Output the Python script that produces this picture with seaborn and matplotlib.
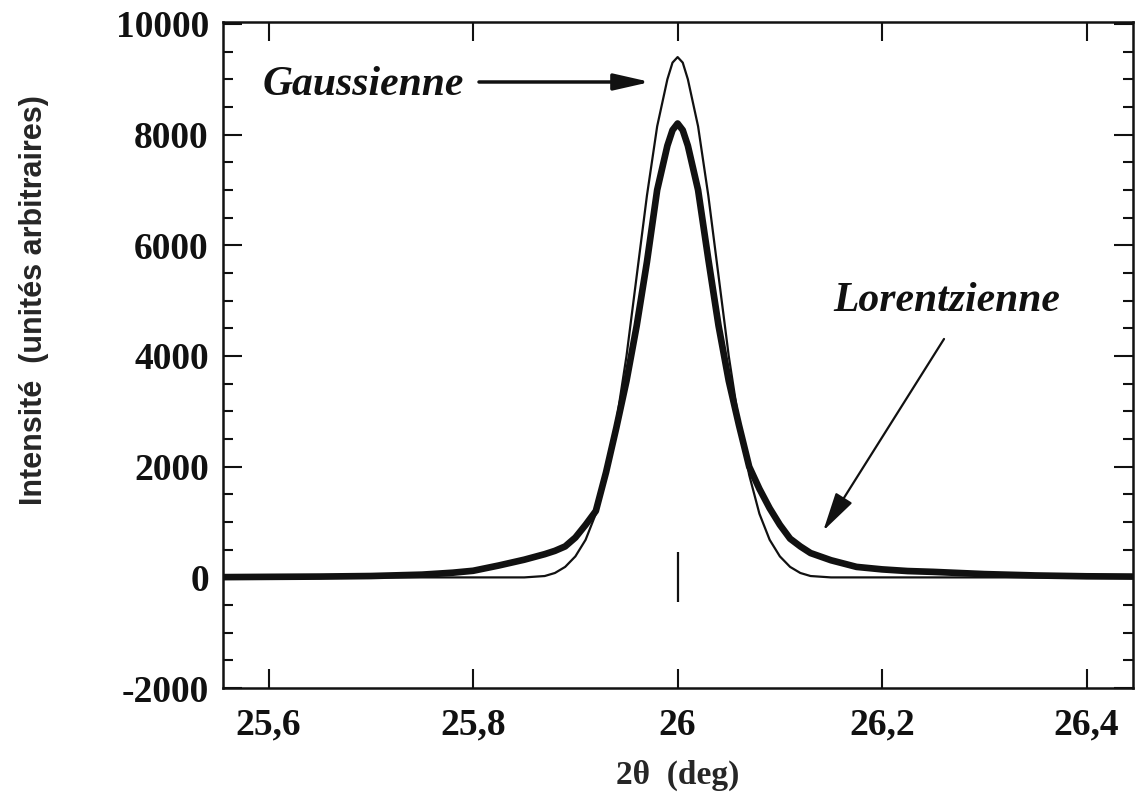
import matplotlib
matplotlib.use("Agg")
import matplotlib.pyplot as plt
import seaborn as sns
import pandas as pd
from matplotlib.ticker import MultipleLocator

# positions 2theta (deg)
two_theta = [25.555, 25.60, 25.65, 25.70, 25.75, 25.78, 25.80, 25.825, 25.85, 25.87,
             25.88, 25.89, 25.90, 25.91, 25.92, 25.93, 25.94, 25.95, 25.96, 25.97,
             25.98, 25.99, 25.995, 26.00, 26.005, 26.01, 26.02, 26.03, 26.04, 26.05,
             26.06, 26.07, 26.08, 26.09, 26.10, 26.11, 26.12, 26.13, 26.15, 26.175,
             26.20, 26.225, 26.25, 26.30, 26.35, 26.40, 26.445]

# profil gaussien (trait fin)
gauss = [0, 0, 0, 0, 0, 0, 0, 0, 0, 25,
         80, 190, 380, 680, 1150, 1850, 2800, 4000, 5450, 6900,
         8150, 9000, 9300, 9400, 9300, 9000, 8150, 6900, 5450, 4000,
         2800, 1850, 1150, 680, 380, 190, 80, 25, 0, 0,
         0, 0, 0, 0, 0, 0, 0]

# profil lorentzien (trait epais)
lorentz = [5, 10, 15, 25, 50, 85, 120, 215, 320, 420,
           480, 560, 720, 950, 1200, 1900, 2700, 3550, 4550, 5700,
           7000, 7800, 8080, 8200, 8080, 7800, 7000, 5750, 4550, 3550,
           2750, 2000, 1600, 1250, 950, 700, 560, 440, 310, 190,
           145, 115, 100, 60, 35, 20, 15]

# repere vertical a 26 deg
mark_x = 26.0
mark_y = [-450, 450]

df = pd.DataFrame({"2theta": two_theta, "Gaussienne": gauss, "Lorentzienne": lorentz})

sns.set_style("ticks")
plt.rcParams['font.family'] = ['Liberation Serif', 'DejaVu Serif']

fig = plt.figure(figsize=(11.36, 8.02), dpi=100)
ax = fig.add_axes([0.196, 0.142, 0.801, 0.831])

sns.lineplot(data=df, x="2theta", y="Gaussienne", ax=ax, color="#111111", lw=1.6)
sns.lineplot(data=df, x="2theta", y="Lorentzienne", ax=ax, color="#111111", lw=4.8)
ax.vlines(mark_x, mark_y[0], mark_y[1], color="#111111", lw=1.6)

ax.set_xlim(25.555, 26.445)
ax.set_ylim(-2000, 10040)
ax.xaxis.set_major_locator(MultipleLocator(0.2))
ax.yaxis.set_major_locator(MultipleLocator(2000))
ax.yaxis.set_minor_locator(MultipleLocator(500))

ax.tick_params(which="both", direction="in", top=True, right=True, width=1.5, colors="#111111")
ax.tick_params(which="major", length=14)
ax.tick_params(which="minor", length=7)
ax.tick_params(axis="y", which="major", pad=10)
ax.tick_params(axis="x", which="major", pad=14)
for s in ax.spines.values():
    s.set_linewidth(1.8)
    s.set_color("#111111")

ax.set_xticks([25.6, 25.8, 26.0, 26.2, 26.4])
ax.set_xticklabels(["25,6", "25,8", "26", "26,2", "26,4"])
ax.set_yticks([-2000, 0, 2000, 4000, 6000, 8000, 10000])
ax.set_yticklabels(["-2000", "0", "2000", "4000", "6000", "8000", "10000"])
for lab in ax.get_xticklabels() + ax.get_yticklabels():
    lab.set_fontsize(27)
    lab.set_fontweight("bold")

ax.set_xlabel("2θ  (deg)", fontsize=24, fontweight="bold")
ax.xaxis.set_label_coords(0.5, -0.131)
ax.xaxis.label.set_va("center")
ax.set_ylabel("Intensité  (unités arbitraires)", fontsize=22, fontweight="bold",
              family=['Liberation Sans', 'DejaVu Sans'])
ax.yaxis.set_label_coords(-0.207, 0.583)
ax.yaxis.label.set_va("center")

ax.annotate("", xy=(25.976, 8950), xytext=(25.803, 8950),
            arrowprops=dict(arrowstyle="-|>,head_length=2.2,head_width=0.5",
                            lw=2.5, color="#111111"))
ax.text(25.594, 8900, "Gaussienne", fontsize=30, fontweight="bold", style="italic",
        ha="left", va="center", color="#111111")

ax.annotate("", xy=(26.141, 800), xytext=(26.262, 4350),
            arrowprops=dict(arrowstyle="-|>,head_length=2.4,head_width=0.6",
                            lw=1.6, color="#111111"))
ax.text(26.263, 5000, "Lorentzienne", fontsize=30, fontweight="bold", style="italic",
        ha="center", va="center", color="#111111")

fig.savefig("out.png", dpi=100, facecolor="white")
